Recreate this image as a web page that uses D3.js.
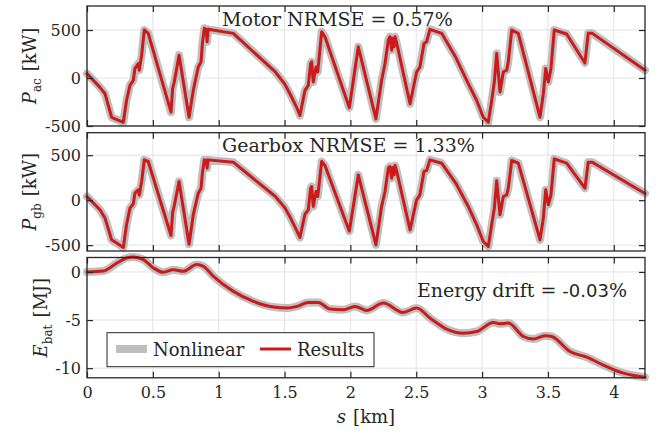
<!DOCTYPE html>
<html>
<head>
<meta charset="utf-8">
<script src="https://cdn.jsdelivr.net/npm/d3@7"></script>
<style>
  html, body { margin: 0; padding: 0; background: #fff; }
</style>
</head>
<body>
<script>
// Distance along the route [km]
const sMotor = [0, 0.10, 0.137, 0.187, 0.276, 0.300, 0.326, 0.352, 0.364, 0.390, 0.397, 0.415, 0.435, 0.465,
  0.638, 0.650, 0.663, 0.699, 0.775, 0.807, 0.845, 0.866, 0.876, 0.891, 0.905, 0.912, 0.920, 1.111,
  1.43, 1.50, 1.541, 1.59, 1.617, 1.655, 1.680, 1.698, 1.706, 1.718, 1.739, 1.752, 1.782, 1.807,
  1.992, 2.06, 2.194, 2.237, 2.263, 2.288, 2.300, 2.314, 2.320, 2.331, 2.339, 2.352, 2.453, 2.503,
  2.528, 2.559, 2.579, 2.604, 2.693, 2.80, 2.895, 2.959, 3.009, 3.047, 3.073, 3.093, 3.111, 3.136,
  3.161, 3.187, 3.199, 3.225, 3.275, 3.44, 3.465, 3.483, 3.503, 3.523, 3.548, 3.642, 3.781, 3.806,
  3.837, 4.237];

// Motor AC power [kW]
const motorPower = [46, -100, -164, -409, -461, -234, -77, -24, 98, 151, 81, 238, 500, 465,
  -356, -110, -40, 238, -409, -129, 115, 168, 360, 518, 505, 377, 507, 465,
  63, -60, -164, -300, -391, -129, -77, 151, 168, -42, 115, 63, 482, 430,
  -310, 325, -426, -24, 151, 395, 430, 290, 413, 325, 430, 360, -268, 63,
  115, 360, 377, 507, 465, 215, -59, -234, -409, -461, -234, -42, 256, -147,
  63, 81, 168, 500, 465, -409, -164, 98, -42, 98, 500, 458, 157, 465,
  465, 81];

// Gearbox power [kW]
const gearboxPower = [41, -110, -200, -441, -526, -274, -89, -40, 78, 115, 56, 207, 448, 430,
  -393, -140, -60, 207, -489, -163, 78, 133, 300, 448, 445, 356, 448, 422,
  41, -80, -185, -330, -415, -156, -107, 130, 152, -70, 96, 41, 430, 385,
  -345, 281, -496, -70, 96, 356, 374, 244, 363, 281, 385, 319, -330, 4,
  59, 319, 330, 448, 411, 190, -70, -274, -459, -515, -274, -89, 215, -163,
  41, 59, 133, 441, 411, -441, -200, 115, -52, 59, 459, 411, 133, 422,
  422, 75];

// Battery energy [MJ]
const sEnergy = [0, 0.124, 0.225, 0.30, 0.352, 0.428, 0.504, 0.58, 0.655, 0.731, 0.833, 0.884, 0.96,
  1.112, 1.264, 1.416, 1.518, 1.594, 1.68, 1.756, 1.845, 1.946, 2.035, 2.124, 2.25, 2.40, 2.503,
  2.604, 2.731, 2.857, 2.959, 3.085, 3.136, 3.199, 3.313, 3.389, 3.478, 3.528, 3.667, 3.794, 3.946,
  4.073, 4.237];
const batteryEnergy = [0.0, 0.1, 0.9, 1.45, 1.56, 1.28, 0.42, -0.04, 0.24, 0.06, 0.76, 0.58, -0.46,
  -2.02, -3.06, -3.65, -3.75, -3.58, -3.17, -3.17, -3.86, -3.93, -3.58, -4.0, -3.23, -4.21, -3.75,
  -4.79, -5.94, -6.36, -6.19, -5.25, -5.39, -5.31, -6.71, -6.98, -6.64, -6.71, -8.27, -8.86, -9.84,
  -10.52, -10.94];

const xTicks = [0, 0.5, 1, 1.5, 2, 2.5, 3, 3.5, 4];
const powerTicks = [-500, 0, 500];
const energyTicks = [-10, -5, 0];
const seriesNames = ["Nonlinear", "Results"];

const W = 659, H = 436;
const left = 87, right = 645;
const SERIF = '"DejaVu Serif", "Liberation Serif", serif';
const SANS = '"DejaVu Sans", "Liberation Sans", sans-serif';
const cGray = "#bfbfbf", cRed = "#cc1a1a", cAxis = "#262626", cGrid = "#e3e3e3";

const svg = d3.select("body").append("svg").attr("width", W).attr("height", H)
  .style("font-family", SERIF);

const x = d3.scaleLinear().domain([0, 4.237]).range([left, right]);

const panels = [
  { top: 6, bottom: 126, domain: [-500, 750], ticks: powerTicks, s: sMotor, v: motorPower,
    sym: "P", sub: "ac", unit: "[kW]", curve: d3.curveLinear,
    note: [{ t: "Motor NRMSE = 0.57%" }], noteX: 222, noteY: 26 },
  { top: 132.7, bottom: 251, domain: [-565, 750], ticks: powerTicks, s: sMotor, v: gearboxPower,
    sym: "P", sub: "gb", unit: "[kW]", curve: d3.curveLinear,
    note: [{ t: "Gearbox NRMSE = 1.33%" }], noteX: 222, noteY: 151.7 },
  { top: 257.5, bottom: 377.8, domain: [-11, 1.5], ticks: energyTicks, s: sEnergy, v: batteryEnergy,
    sym: "E", sub: "bat", unit: "[MJ]", curve: d3.curveMonotoneX,
    note: [{ t: "Energy drift = " }, { t: "-0.03", sans: true }, { t: "%" }], noteX: 417, noteY: 296.7 }
];

panels.forEach((p, i) => {
  const y = d3.scaleLinear().domain(p.domain).range([p.bottom, p.top]);
  const g = svg.append("g");

  // grid
  g.append("g").selectAll("line").data(xTicks).join("line")
    .attr("x1", d => x(d)).attr("x2", d => x(d)).attr("y1", p.top).attr("y2", p.bottom)
    .attr("stroke", cGrid).attr("stroke-width", 1);
  g.append("g").selectAll("line").data(p.ticks).join("line")
    .attr("x1", left).attr("x2", right).attr("y1", d => y(d)).attr("y2", d => y(d))
    .attr("stroke", cGrid).attr("stroke-width", 1);

  // curves
  const pts = p.s.map((s, k) => [s, p.v[k]]);
  const line = d3.line().x(d => x(d[0])).y(d => y(d[1])).curve(p.curve);
  g.append("path").datum(pts).attr("d", line).attr("fill", "none")
    .attr("stroke", cGray).attr("stroke-width", 8).attr("stroke-linejoin", "round").attr("stroke-linecap", "round");
  g.append("path").datum(pts).attr("d", line).attr("fill", "none")
    .attr("stroke", cRed).attr("stroke-width", 3).attr("stroke-linejoin", "round").attr("stroke-linecap", "round");

  // axes with inward ticks
  const last = i === panels.length - 1;
  const axB = d3.axisBottom(x).tickValues(xTicks).tickSize(-6).tickSizeOuter(0).tickPadding(9)
    .tickFormat(d => last ? String(d) : "");
  const axT = d3.axisTop(x).tickValues(xTicks).tickSize(-6).tickSizeOuter(0).tickFormat("");
  const axL = d3.axisLeft(y).tickValues(p.ticks).tickSize(-6).tickSizeOuter(0).tickPadding(6)
    .tickFormat(d => String(d));
  const axR = d3.axisRight(y).tickValues(p.ticks).tickSize(-6).tickSizeOuter(0).tickFormat("");

  const styleAxis = sel => {
    sel.attr("font-family", null).attr("font-size", null);
    sel.select(".domain").remove();
    sel.selectAll(".tick line").attr("stroke", cAxis).attr("stroke-width", 1.2);
    sel.selectAll(".tick text").style("font-family", SERIF).style("font-size", "16px").attr("fill", cAxis);
  };
  g.append("g").attr("transform", `translate(0,${p.bottom})`).call(axB).call(styleAxis);
  g.append("g").attr("transform", `translate(0,${p.top})`).call(axT).call(styleAxis);
  g.append("g").attr("transform", `translate(${left},0)`).call(axL).call(styleAxis);
  g.append("g").attr("transform", `translate(${right},0)`).call(axR).call(styleAxis);

  // frame
  g.append("rect").attr("x", left).attr("y", p.top).attr("width", right - left).attr("height", p.bottom - p.top)
    .attr("fill", "none").attr("stroke", cAxis).attr("stroke-width", 1.3);

  // y label
  const lx = i === 2 ? 47 : 36;
  const cy = (p.top + p.bottom) / 2;
  const yl = g.append("text").attr("transform", `translate(${lx},${cy}) rotate(-90)`)
    .attr("text-anchor", "middle").style("font-size", "18px").attr("fill", cAxis);
  yl.append("tspan").attr("font-style", "italic").text(p.sym);
  yl.append("tspan").style("font-size", "12px").attr("dy", 5).text(p.sub);
  yl.append("tspan").attr("dy", -5).attr("dx", 7).text(p.unit);

  // annotation
  const nt = g.append("text").attr("x", p.noteX).attr("y", p.noteY).style("font-size", "19px").attr("fill", cAxis);
  p.note.forEach(n => {
    const ts = nt.append("tspan").text(n.t).attr("xml:space", "preserve");
    if (n.sans) ts.style("font-family", SANS).style("font-size", "18px");
  });
});

// x label
const xl = svg.append("text").attr("x", (left + right) / 2).attr("y", 423)
  .attr("text-anchor", "middle").style("font-size", "18px").attr("fill", cAxis);
xl.append("tspan").attr("font-style", "italic").text("s");
xl.append("tspan").attr("dx", 7).text("[km]");

// legend
const lg = svg.append("g");
lg.append("rect").attr("x", 107).attr("y", 332.7).attr("width", 267).attr("height", 34)
  .attr("fill", "#fff").attr("stroke", cAxis).attr("stroke-width", 1);
const legendItems = [
  { name: seriesNames[0], color: cGray, w: 8, x0: 116 },
  { name: seriesNames[1], color: cRed, w: 3, x0: 260 }
];
legendItems.forEach(it => {
  lg.append("line").attr("x1", it.x0).attr("x2", it.x0 + 31).attr("y1", 349).attr("y2", 349)
    .attr("stroke", it.color).attr("stroke-width", it.w);
  lg.append("text").attr("x", it.x0 + 37).attr("y", 355.5).style("font-size", "18px").attr("fill", cAxis).text(it.name);
});
</script>
</body>
</html>
